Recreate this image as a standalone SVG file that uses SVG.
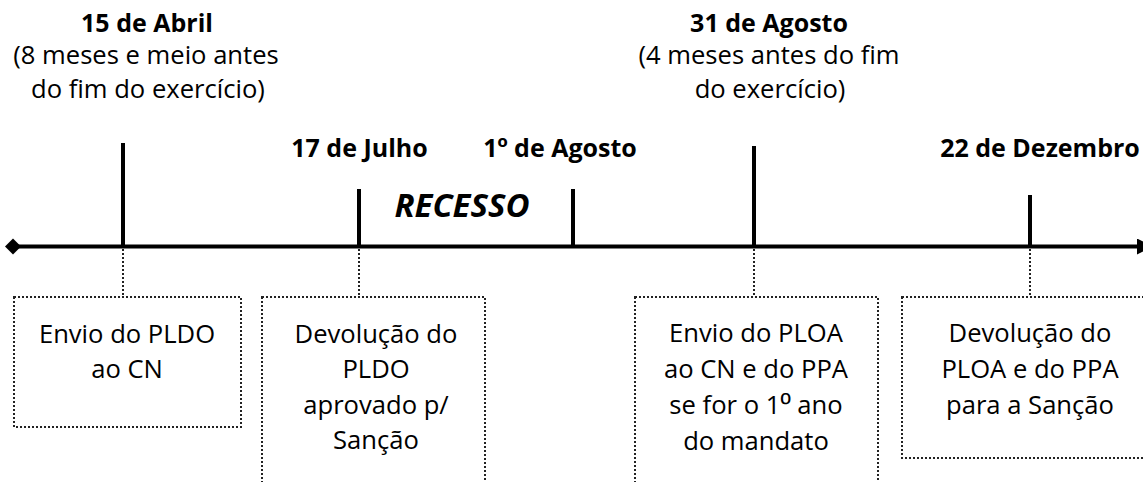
<svg xmlns="http://www.w3.org/2000/svg" width="1143" height="482" viewBox="0 0 1143 482">
<style>
text{font-family:"Open Sans","Noto Sans","DejaVu Sans",sans-serif;fill:#000;text-anchor:middle}
.r{font-size:25.6px}
.b{font-size:25px;font-weight:bold}
.rec{font-size:33px;font-weight:bold;font-style:italic}
.ord{font-family:"Liberation Sans",Arial,sans-serif;font-size:1.1em}
.tick{stroke:#000;stroke-width:4;fill:none}
.dot{stroke:#222;stroke-width:2;stroke-dasharray:2 2;fill:none}
.box{stroke:#222;stroke-width:2;stroke-dasharray:2 2;fill:#fff}
</style>
<defs>
<marker id="arr" markerWidth="4" markerHeight="4" refX="1" refY="2" orient="auto" markerUnits="strokeWidth">
<path d="M0,0 L4,2 L0,4 Z" fill="#000"/>
</marker>
</defs>
<rect width="1143" height="482" fill="#fff"/>
<g id="connectors">
<line x1="123" y1="249" x2="123" y2="297" class="dot"/>
<line x1="359" y1="249" x2="359" y2="297" class="dot"/>
<line x1="754" y1="249" x2="754" y2="297" class="dot"/>
<line x1="1030" y1="249" x2="1030" y2="297" class="dot"/>
</g>
<g id="axis">
<line x1="14" y1="246.5" x2="1141" y2="246.5" stroke="#000" stroke-width="4" marker-end="url(#arr)"/>
<path d="M5,246.5 L13,238.5 L21,246.5 L13,254.5 Z" fill="#000"/>
<line x1="123" y1="143" x2="123" y2="246" class="tick"/>
<line x1="359" y1="189" x2="359" y2="246" class="tick"/>
<line x1="573" y1="189" x2="573" y2="246" class="tick"/>
<line x1="754" y1="146" x2="754" y2="246" class="tick"/>
<line x1="1030" y1="195" x2="1030" y2="246" class="tick"/>
<text x="462" y="217" class="rec">RECESSO</text>
</g>
<g id="label-abril">
<text x="147" y="32" class="b">15 de Abril</text>
<text x="146" y="64" class="r">(8 meses e meio antes</text>
<text x="148" y="98" class="r">do fim do exercício)</text>
</g>
<g id="label-julho">
<text x="359.5" y="157" class="b">17 de Julho</text>
</g>
<g id="label-agosto1">
<text x="560" y="157" class="b">1<tspan class="ord">º</tspan> de Agosto</text>
</g>
<g id="label-agosto31">
<text x="769" y="32" class="b">31 de Agosto</text>
<text x="769" y="64" class="r">(4 meses antes do fim</text>
<text x="770" y="98" class="r">do exercício)</text>
</g>
<g id="label-dezembro">
<text x="1040" y="157" class="b">22 de Dezembro</text>
</g>
<g id="box-pldo-envio">
<rect x="14" y="297" width="227" height="130" class="box"/>
<text x="127" y="343" class="r">Envio do PLDO</text>
<text x="127" y="378" class="r">ao CN</text>
</g>
<g id="box-pldo-devolucao">
<rect x="262" y="297" width="223" height="200" class="box"/>
<text x="376" y="343" class="r">Devolução do</text>
<text x="376" y="378" class="r">PLDO</text>
<text x="376" y="414" class="r">aprovado p/</text>
<text x="376" y="449" class="r">Sanção</text>
</g>
<g id="box-ploa-envio">
<rect x="635" y="297" width="243" height="200" class="box"/>
<text x="756" y="342" class="r">Envio do PLOA</text>
<text x="756" y="378" class="r">ao CN e do PPA</text>
<text x="756" y="414" class="r">se for o 1<tspan class="ord">º</tspan> ano</text>
<text x="756" y="450" class="r">do mandato</text>
</g>
<g id="box-ploa-devolucao">
<rect x="902" y="297" width="260" height="161" class="box"/>
<text x="1030" y="342" class="r">Devolução do</text>
<text x="1030" y="378" class="r">PLOA e do PPA</text>
<text x="1030" y="414" class="r">para a Sanção</text>
</g>
</svg>
